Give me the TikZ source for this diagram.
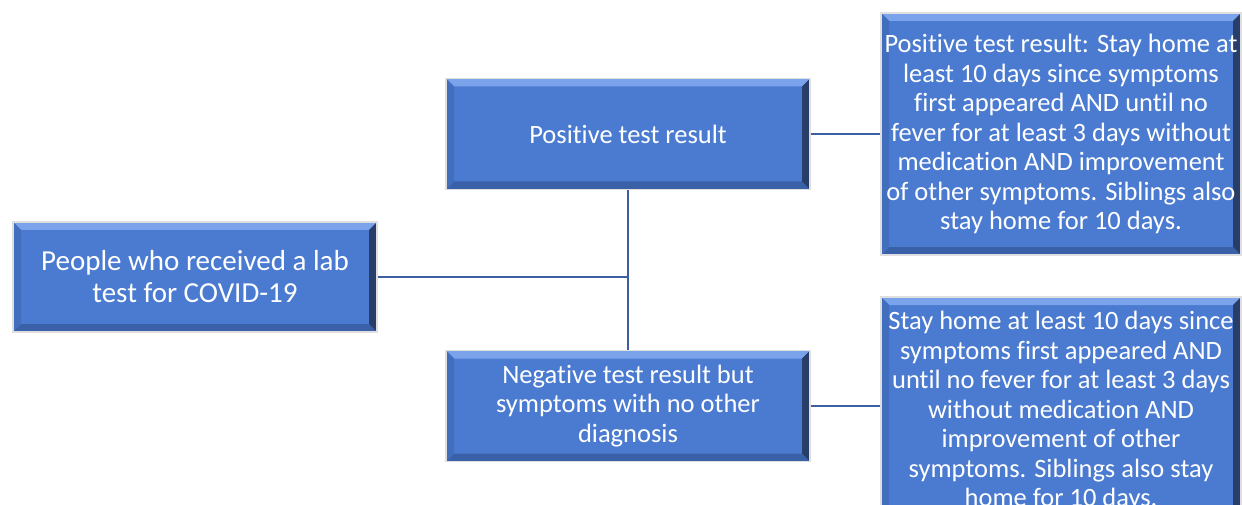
\documentclass[tikz,border=0pt]{standalone}
\usepackage{fontspec}
\setmainfont[Ligatures = NoCommon]{Carlito}
\definecolor{boxBlue}{RGB}{74,123,209}
\definecolor{bevelTop}{RGB}{122,163,236}
\definecolor{bevelLeft}{RGB}{66,110,190}
\definecolor{bevelBottom}{RGB}{58,96,168}
\definecolor{bevelRight}{RGB}{40,62,104}
\definecolor{lineBlue}{RGB}{59,95,160}
\begin{document}
\begin{tikzpicture}[x = 1pt, y = -1pt]
\tikzstyle{bevelStyle} = [shape = rectangle, fill = boxBlue, draw = gray!25, line width = 1.5pt, text = white, align = center, inner sep = 2pt,
  path picture = {
    \fill[bevelTop] (path picture bounding box.north west) -- (path picture bounding box.north east) -- ([shift = {(-8pt,-8pt)}]path picture bounding box.north east) -- ([shift = {(8pt,-8pt)}]path picture bounding box.north west) -- cycle;
    \fill[bevelBottom] (path picture bounding box.south west) -- (path picture bounding box.south east) -- ([shift = {(-8pt,8pt)}]path picture bounding box.south east) -- ([shift = {(8pt,8pt)}]path picture bounding box.south west) -- cycle;
    \fill[bevelLeft] (path picture bounding box.north west) -- (path picture bounding box.south west) -- ([shift = {(8pt,8pt)}]path picture bounding box.south west) -- ([shift = {(8pt,-8pt)}]path picture bounding box.north west) -- cycle;
    \fill[bevelRight] (path picture bounding box.north east) -- (path picture bounding box.south east) -- ([shift = {(-8pt,8pt)}]path picture bounding box.south east) -- ([shift = {(-8pt,-8pt)}]path picture bounding box.north east) -- cycle;
  }]
\tikzstyle{bigStyle} = [bevelStyle, minimum width = 364pt, minimum height = 110pt, font = \fontsize{29}{32}\selectfont]
\tikzstyle{midStyle} = [bevelStyle, minimum width = 364pt, minimum height = 111pt, font = \fontsize{26.5}{29.5}\selectfont]
\tikzstyle{tallStyle} = [bevelStyle, minimum width = 360pt, minimum height = 242pt, font = \fontsize{26.5}{29.5}\selectfont]
\tikzstyle{EdgeStyle} = [draw = lineBlue, line width = 2.5pt]
\useasboundingbox (0,0) rectangle (1242,505);
\clip (0,0) rectangle (1242,505);
\node[bigStyle] (lab) at (195,277) {People who received a lab\\test for COVID-19};
\node[midStyle] (pos) at (628,134) {Positive test result};
\node[midStyle] (neg) at (628,406) {Negative test result but\\symptoms with no other\\diagnosis};
\node[tallStyle] (posAdvice) at (1061,134) {Positive test result: Stay home at\\least 10 days since symptoms\\first appeared AND until no\\fever for at least 3 days without\\medication AND improvement\\of other symptoms. Siblings also\\stay home for 10 days.};
\node[tallStyle, minimum height = 228pt] (negAdvice) at (1061,411) {Stay home at least 10 days since\\symptoms first appeared AND\\until no fever for at least 3 days\\without medication AND\\improvement of other\\symptoms. Siblings also stay\\home for 10 days.};
\draw[EdgeStyle] (lab.east) -- (lab.east -| pos.south);
\draw[EdgeStyle] (pos.south) -- (neg.north);
\draw[EdgeStyle] (pos.east) -- (posAdvice.west);
\draw[EdgeStyle] (neg.east) -- (neg.east -| negAdvice.west);
\end{tikzpicture}
\end{document}
